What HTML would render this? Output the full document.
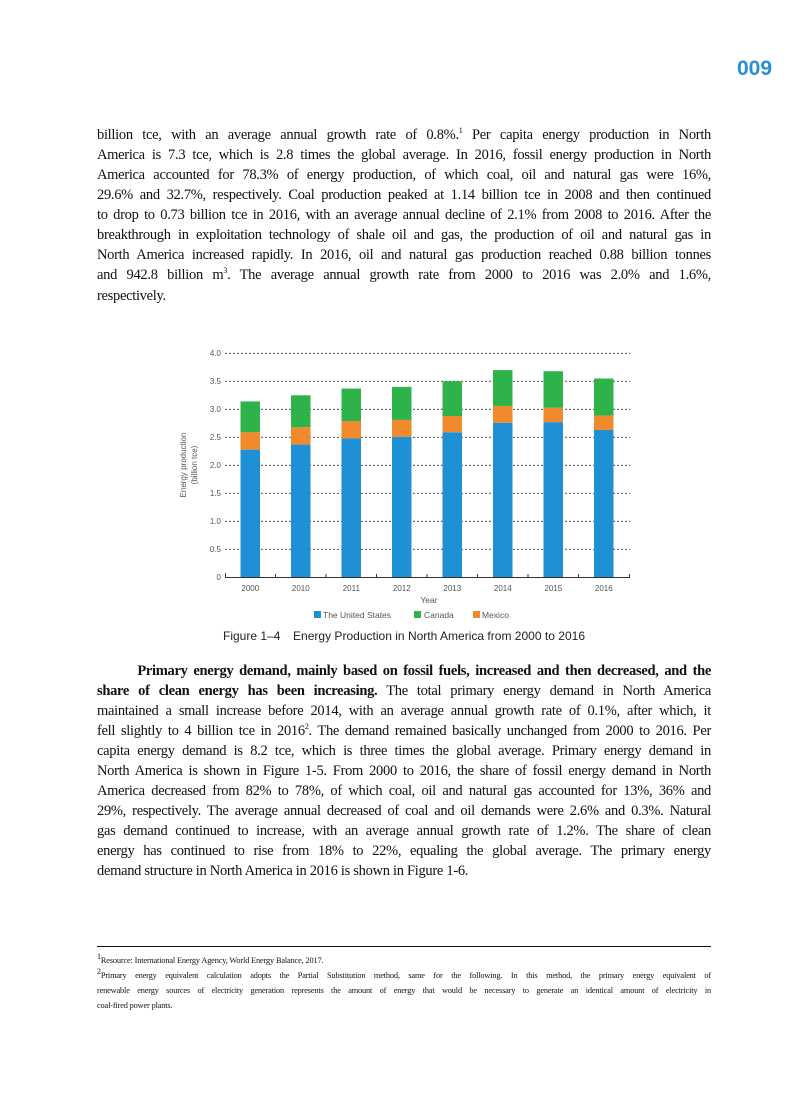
<!DOCTYPE html>
<html><head><meta charset="utf-8"><style>
body{margin:0;background:#fff;}
#p{position:relative;width:794px;height:1100px;overflow:hidden;font-family:"Liberation Serif",serif;color:#111;}
.l{position:absolute;left:97px;width:614px;font-size:14.5px;line-height:20px;white-space:nowrap;text-align:justify;text-align-last:justify;letter-spacing:-0.3px;}
.f{position:absolute;left:97px;width:614px;font-size:8.3px;line-height:15px;white-space:nowrap;text-align:justify;text-align-last:justify;letter-spacing:-0.15px;}
.l.e,.f.e{text-align-last:left;}
sup{font-size:8px;line-height:0;}
</style></head><body><div id="p">
<div style="position:absolute;left:737px;top:57px;font:bold 21px 'Liberation Sans',sans-serif;color:#2a8fd0;">009</div>
<div class="l" style="top:125px">billion tce, with an average annual growth rate of 0.8%.<sup>1</sup> Per capita energy production in North</div>
<div class="l" style="top:145px">America is 7.3 tce, which is 2.8 times the global average. In 2016, fossil energy production in North</div>
<div class="l" style="top:165px">America accounted for 78.3% of energy production, of which coal, oil and natural gas were 16%,</div>
<div class="l" style="top:185px">29.6% and 32.7%, respectively. Coal production peaked at 1.14 billion tce in 2008 and then continued</div>
<div class="l" style="top:205px">to drop to 0.73 billion tce in 2016, with an average annual decline of 2.1% from 2008 to 2016. After the</div>
<div class="l" style="top:225px">breakthrough in exploitation technology of shale oil and gas, the production of oil and natural gas in</div>
<div class="l" style="top:245px">North America increased rapidly. In 2016, oil and natural gas production reached 0.88 billion tonnes</div>
<div class="l" style="top:265px">and 942.8 billion m<sup>3</sup>. The average annual growth rate from 2000 to 2016 was 2.0% and 1.6%,</div>
<div class="l e" style="top:286px">respectively.</div>

<svg style="position:absolute;left:0;top:0" width="794" height="1100" font-family="Liberation Sans, sans-serif">
<g stroke="#333" stroke-width="0.8" stroke-dasharray="2,2">
<line x1="225" x2="630" y1="353.3" y2="353.3"/><line x1="225" x2="630" y1="381.3" y2="381.3"/>
<line x1="225" x2="630" y1="409.3" y2="409.3"/><line x1="225" x2="630" y1="437.3" y2="437.3"/>
<line x1="225" x2="630" y1="465.3" y2="465.3"/><line x1="225" x2="630" y1="493.3" y2="493.3"/>
<line x1="225" x2="630" y1="521.3" y2="521.3"/><line x1="225" x2="630" y1="549.3" y2="549.3"/>
</g>
<g font-size="8" fill="#555" text-anchor="end">
<text x="221" y="356">4.0</text><text x="221" y="384">3.5</text><text x="221" y="412">3.0</text>
<text x="221" y="440">2.5</text><text x="221" y="468">2.0</text><text x="221" y="496">1.5</text>
<text x="221" y="524">1.0</text><text x="221" y="552">0.5</text><text x="221" y="580">0</text>
</g>
<g transform="translate(0,577.3) scale(1,-56)">
<g fill="#1f8fd6">
<rect x="240.5" width="19.5" y="0" height="2.28"/><rect x="291" width="19.5" y="0" height="2.37"/>
<rect x="341.5" width="19.5" y="0" height="2.48"/><rect x="392" width="19.5" y="0" height="2.51"/>
<rect x="442.5" width="19.5" y="0" height="2.59"/><rect x="493" width="19.5" y="0" height="2.76"/>
<rect x="543.5" width="19.5" y="0" height="2.77"/><rect x="594" width="19.5" y="0" height="2.63"/>
</g>
<g fill="#f08a2c">
<rect x="240.5" width="19.5" y="2.28" height="0.31"/><rect x="291" width="19.5" y="2.37" height="0.31"/>
<rect x="341.5" width="19.5" y="2.48" height="0.31"/><rect x="392" width="19.5" y="2.51" height="0.30"/>
<rect x="442.5" width="19.5" y="2.59" height="0.29"/><rect x="493" width="19.5" y="2.76" height="0.30"/>
<rect x="543.5" width="19.5" y="2.77" height="0.26"/><rect x="594" width="19.5" y="2.63" height="0.26"/>
</g>
<g fill="#2db34a">
<rect x="240.5" width="19.5" y="2.59" height="0.55"/><rect x="291" width="19.5" y="2.68" height="0.57"/>
<rect x="341.5" width="19.5" y="2.79" height="0.58"/><rect x="392" width="19.5" y="2.81" height="0.59"/>
<rect x="442.5" width="19.5" y="2.88" height="0.62"/><rect x="493" width="19.5" y="3.06" height="0.64"/>
<rect x="543.5" width="19.5" y="3.03" height="0.65"/><rect x="594" width="19.5" y="2.89" height="0.66"/>
</g>
</g>
<g stroke="#333" stroke-width="1">
<line x1="225" x2="630" y1="577.5" y2="577.5"/>
<line x1="225.5" x2="225.5" y1="573" y2="578"/><line x1="275.5" x2="275.5" y1="574" y2="578"/>
<line x1="326" x2="326" y1="574" y2="578"/><line x1="376.5" x2="376.5" y1="574" y2="578"/>
<line x1="427" x2="427" y1="574" y2="578"/><line x1="477.5" x2="477.5" y1="574" y2="578"/>
<line x1="528" x2="528" y1="574" y2="578"/><line x1="578.5" x2="578.5" y1="574" y2="578"/>
<line x1="629.5" x2="629.5" y1="574" y2="578"/>
</g>
<g font-size="8" fill="#555" text-anchor="middle">
<text x="250.3" y="591">2000</text><text x="300.8" y="591">2010</text><text x="351.3" y="591">2011</text>
<text x="401.8" y="591">2012</text><text x="452.3" y="591">2013</text><text x="502.8" y="591">2014</text>
<text x="553.3" y="591">2015</text><text x="603.8" y="591">2016</text>
<text x="429" y="603" font-size="8.5">Year</text>
<text transform="translate(186,465) rotate(-90)">Energy production</text>
<text transform="translate(197,465) rotate(-90)">(billion tce)</text>
</g>
<g font-size="8.5" fill="#555">
<rect x="314" y="611" width="7" height="7" fill="#1f8fd6"/><text x="323" y="618">The United States</text>
<rect x="414" y="611" width="7" height="7" fill="#2db34a"/><text x="424" y="618">Canada</text>
<rect x="473" y="611" width="7" height="7" fill="#f08a2c"/><text x="482" y="618">Mexico</text>
</g>
<text x="223" y="640" font-size="12" fill="#222">Figure 1–4</text>
<text x="293" y="640" font-size="12" fill="#222" textLength="292" lengthAdjust="spacing">Energy Production in North America from 2000 to 2016</text>
<line x1="97" x2="711" y1="946.5" y2="946.5" stroke="#111" stroke-width="1"/>
</svg>

<div class="l" style="top:661px"><b>&nbsp;&nbsp;&nbsp;&nbsp;&nbsp;&nbsp;&nbsp;Primary energy demand, mainly based on fossil fuels, increased and then decreased, and the</b></div>
<div class="l" style="top:681px"><b>share of clean energy has been increasing.</b> The total primary energy demand in North America</div>
<div class="l" style="top:701px">maintained a small increase before 2014, with an average annual growth rate of 0.1%, after which, it</div>
<div class="l" style="top:721px">fell slightly to 4 billion tce in 2016<sup>2</sup>. The demand remained basically unchanged from 2000 to 2016. Per</div>
<div class="l" style="top:741px">capita energy demand is 8.2 tce, which is three times the global average. Primary energy demand in</div>
<div class="l" style="top:761px">North America is shown in Figure 1-5. From 2000 to 2016, the share of fossil energy demand in North</div>
<div class="l" style="top:781px">America decreased from 82% to 78%, of which coal, oil and natural gas accounted for 13%, 36% and</div>
<div class="l" style="top:801px">29%, respectively. The average annual decreased of coal and oil demands were 2.6% and 0.3%. Natural</div>
<div class="l" style="top:821px">gas demand continued to increase, with an average annual growth rate of 1.2%. The share of clean</div>
<div class="l" style="top:841px">energy has continued to rise from 18% to 22%, equaling the global average. The primary energy</div>
<div class="l e" style="top:861px">demand structure in North America in 2016 is shown in Figure 1-6.</div>

<div class="f e" style="top:953px"><sup>1</sup>Resource: International Energy Agency, World Energy Balance, 2017.</div>
<div class="f" style="top:968px"><sup>2</sup>Primary energy equivalent calculation adopts the Partial Substitution method, same for the following. In this method, the primary energy equivalent of</div>
<div class="f" style="top:983px">renewable energy sources of electricity generation represents the amount of energy that would be necessary to generate an identical amount of electricity in</div>
<div class="f e" style="top:998px">coal-fired power plants.</div>
</div></body></html>
